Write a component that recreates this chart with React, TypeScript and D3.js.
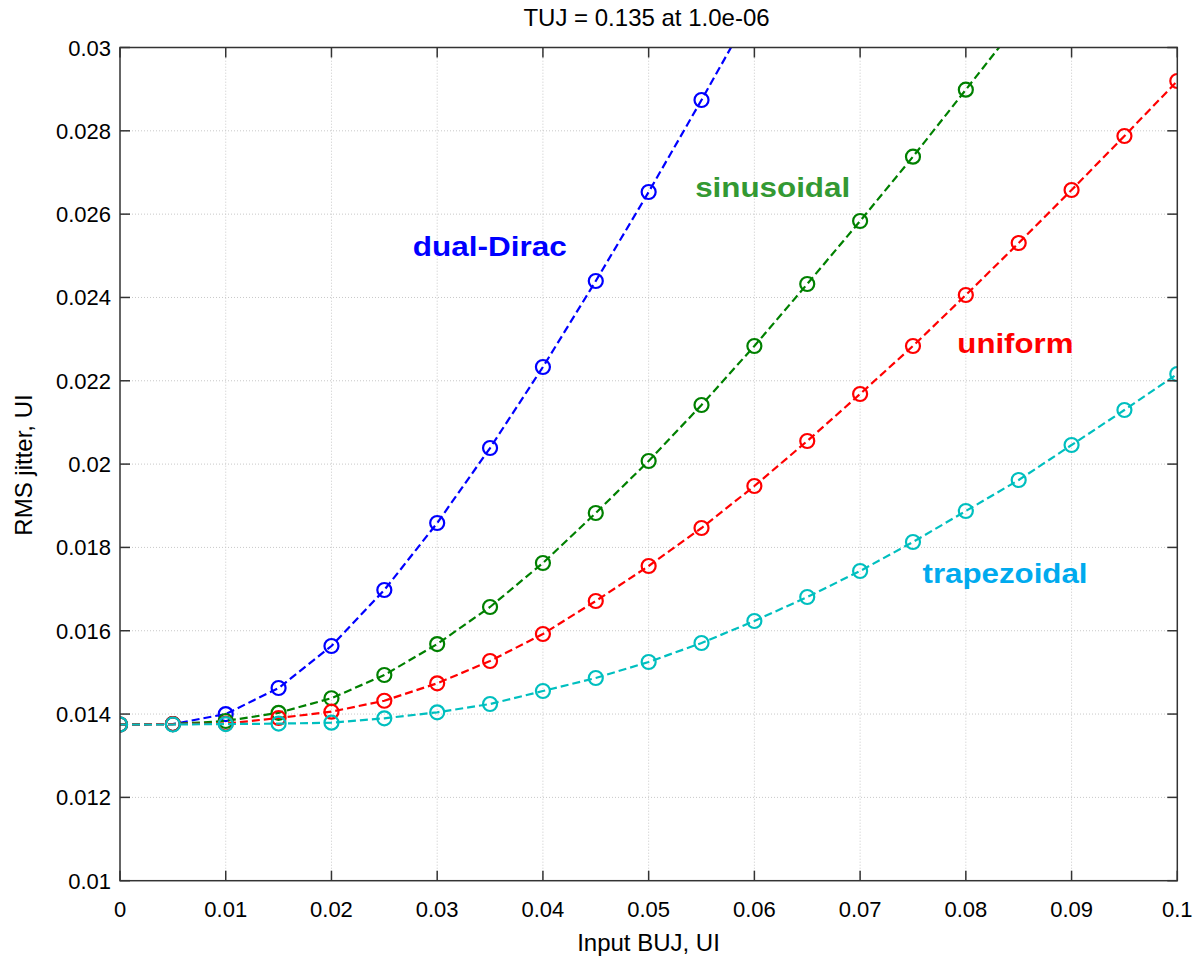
import React from 'react';
import * as d3 from 'd3';

// input BUJ values (UI)
const buj = [0, 0.005, 0.01, 0.015, 0.02, 0.025, 0.03, 0.035, 0.04, 0.045, 0.05,
  0.055, 0.06, 0.065, 0.07, 0.075, 0.08, 0.085, 0.09, 0.095, 0.1];

// RMS jitter
const dualDirac = [0.01375, 0.01376, 0.01400, 0.014625, 0.015634, 0.016978, 0.018586,
  0.020386, 0.022331, 0.024395, 0.026531, 0.02874, 0.03100];
const sinusoidal = [0.01375, 0.01376, 0.013834, 0.01403, 0.01438, 0.014937, 0.01568,
  0.01657, 0.017626, 0.018826, 0.020074, 0.021419, 0.022835, 0.024323, 0.025835,
  0.027379, 0.028987, 0.03060];
const uniform = [0.01375, 0.01376, 0.01377, 0.013905, 0.014057, 0.01432, 0.014738,
  0.015274, 0.015922, 0.016714, 0.017554, 0.018466, 0.019474, 0.020554, 0.021683,
  0.022835, 0.024059, 0.025307, 0.026579, 0.027876, 0.029196];
const trapezoidal = [0.01375, 0.01375, 0.01376, 0.01377, 0.013793, 0.013898, 0.014042,
  0.014241, 0.014553, 0.014866, 0.01525, 0.015706, 0.016234, 0.01681, 0.017434,
  0.01813, 0.018874, 0.019618, 0.020458, 0.021299, 0.022163];

const seriesNames = ['dual-Dirac', 'sinusoidal', 'uniform', 'trapezoidal'];
const seriesValues = [dualDirac, sinusoidal, uniform, trapezoidal];
const lineColors = ['#0000ff', '#008000', '#ff0000', '#00bfbf'];
const labelColors = ['#0000ff', '#339933', '#ff0000', '#00aaee'];
// label anchor (data coords) and drawn width
const labelX = [0.0277, 0.0544, 0.0792, 0.0759];
const labelY = [0.025, 0.02641, 0.022667, 0.017146];
const labelLen = [154, 155, 116, 165];

const xTicks = [0, 0.01, 0.02, 0.03, 0.04, 0.05, 0.06, 0.07, 0.08, 0.09, 0.1];
const yTicks = [0.01, 0.012, 0.014, 0.016, 0.018, 0.02, 0.022, 0.024, 0.026, 0.028, 0.03];

const title = 'TUJ = 0.135 at 1.0e-06';
const xLabel = 'Input BUJ, UI';
const yLabel = 'RMS jitter, UI';

const W = 1195;
const H = 957;
const margin = { left: 120, top: 47.5, right: 17.7, bottom: 76.3 };

const App = () => {
  const x = d3.scaleLinear().domain([0, 0.1]).range([margin.left, W - margin.right]);
  const y = d3.scaleLinear().domain([0.01, 0.03]).range([H - margin.bottom, margin.top]);
  const [x0, x1] = x.range();
  const [y0, y1] = y.range();
  const font = 'Liberation Sans, Arial, Helvetica, sans-serif';
  const fmt = (v: number) => String(+v.toFixed(3));

  const line = d3.line<number>()
    .x((_, i) => x(buj[i]))
    .y(d => y(d));

  return (
    <svg width={W} height={H} style={{ position: 'absolute', left: 0, top: 0, background: '#fff' }}
      fontFamily={font}>
      <defs>
        <clipPath id="plot">
          <rect x={x0} y={y1} width={x1 - x0} height={y0 - y1} />
        </clipPath>
      </defs>
      <rect x={0} y={0} width={W} height={H} fill="#fff" />

      {/* grid */}
      <g stroke="#c8c8c8" strokeWidth={1} strokeDasharray="1,2">
        {xTicks.slice(1, -1).map(t => (
          <line key={'gx' + t} x1={x(t)} x2={x(t)} y1={y0} y2={y1} />
        ))}
        {yTicks.slice(1, -1).map(t => (
          <line key={'gy' + t} x1={x0} x2={x1} y1={y(t)} y2={y(t)} />
        ))}
      </g>

      {/* series */}
      <g clipPath="url(#plot)">
        {seriesValues.map((vals, s) => (
          <g key={seriesNames[s]}>
            <path d={line(vals) || ''} fill="none" stroke={lineColors[s]} strokeWidth={2.2}
              strokeDasharray="8,4" />
            {vals.map((v, i) => (
              <circle key={i} cx={x(buj[i])} cy={y(v)} r={7} fill="none"
                stroke={lineColors[s]} strokeWidth={2.2} />
            ))}
          </g>
        ))}
      </g>

      {/* box and ticks */}
      <g stroke="#333" strokeWidth={1.5}>
        <rect x={x0} y={y1} width={x1 - x0} height={y0 - y1} fill="none" />
        {xTicks.map(t => (
          <g key={'tx' + t}>
            <line x1={x(t)} x2={x(t)} y1={y0} y2={y0 - 10} />
            <line x1={x(t)} x2={x(t)} y1={y1} y2={y1 + 10} />
          </g>
        ))}
        {yTicks.map(t => (
          <g key={'ty' + t}>
            <line x1={x0} x2={x0 + 10} y1={y(t)} y2={y(t)} />
            <line x1={x1} x2={x1 - 10} y1={y(t)} y2={y(t)} />
          </g>
        ))}
      </g>

      {/* tick labels */}
      <g fontSize={22} fill="#000">
        {xTicks.map(t => (
          <text key={'lx' + t} x={x(t)} y={y0 + 36} textAnchor="middle">{fmt(t)}</text>
        ))}
        {yTicks.map(t => (
          <text key={'ly' + t} x={x0 - 9} y={y(t) + 8} textAnchor="end">{fmt(t)}</text>
        ))}
      </g>

      {/* series labels */}
      {seriesNames.map((name, s) => (
        <text key={'n' + name} x={x(labelX[s])} y={y(labelY[s])} fill={labelColors[s]}
          fontSize={27} fontWeight="bold" textLength={labelLen[s]} lengthAdjust="spacingAndGlyphs">
          {name}
        </text>
      ))}

      <text x={646.5} y={26} textAnchor="middle" fontSize={24}>{title}</text>
      <text x={648.5} y={951} textAnchor="middle" fontSize={24}>{xLabel}</text>
      <text transform={`translate(32,465) rotate(-90)`} textAnchor="middle" fontSize={24}>{yLabel}</text>
    </svg>
  );
};

export default App;
